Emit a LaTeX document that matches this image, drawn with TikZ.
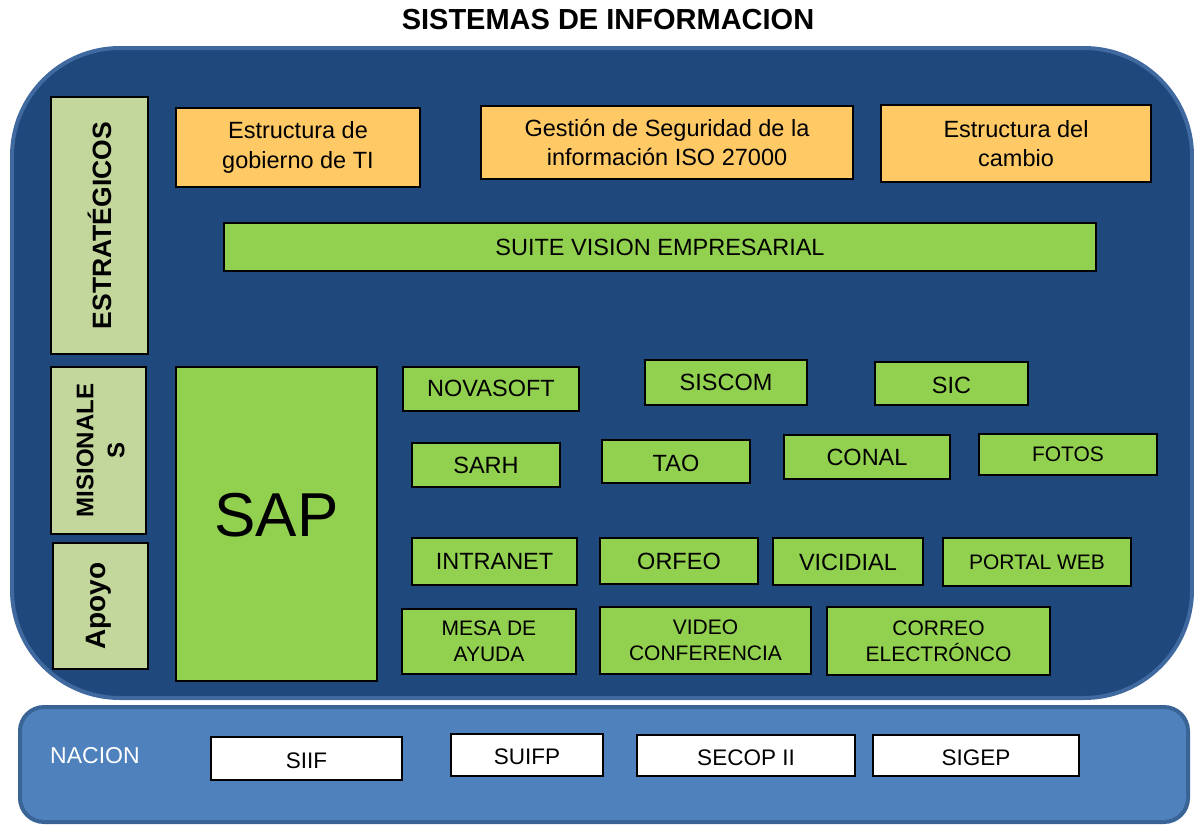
\documentclass[tikz,border=0pt]{standalone}
\usepackage{fontspec}
\setmainfont{Liberation Sans}
\definecolor{darkblue}{HTML}{1F497D}
\definecolor{rimblue}{HTML}{4069A0}
\definecolor{midblue}{HTML}{4F81BD}
\definecolor{rim2}{HTML}{3A6396}
\definecolor{lgreen}{HTML}{C3D69B}
\definecolor{sgreen}{HTML}{92D050}
\definecolor{sorange}{HTML}{FFC966}
\newcommand{\bx}[7]{%
  \node[#6, minimum width={(#4-#2)*1pt}, minimum height={(#5-#3)*1pt}] (#1) at ({(#2+#4)/2},{(#3+#5)/2}) {#7};}
\newcommand{\dn}[2]{\raisebox{-#1pt}[0.72em][0.21em]{#2}}
\tikzset{
  boxbase/.style={draw=black, line width=1.4pt, inner sep=0pt, align=center, font=\fontsize{23.5}{29.5}\selectfont},
  gbox/.style={boxbase, fill=sgreen},
  gsmall/.style={boxbase, fill=sgreen, font=\fontsize{21}{26}\selectfont},
  obox/.style={boxbase, fill=sorange},
  lbox/.style={boxbase, fill=lgreen},
  wbox/.style={boxbase, fill=white, font=\fontsize{22.5}{27}\selectfont},
}
\begin{document}
\begin{tikzpicture}[x=1pt,y=-1pt]
\useasboundingbox (0,0) rectangle (1194,825);
\node[font=\fontsize{29}{34}\bfseries] (title) at (608,20) {SISTEMAS DE INFORMACION};
\draw[fill=darkblue, draw=rimblue, line width=4pt, rounded corners=108pt] (12,48) rectangle (1192,698);
\draw[fill=midblue, draw=rim2, line width=4pt, rounded corners=24pt] (20,707) rectangle (1188,822);
% left labels
\bx{estr}{51}{97}{148}{354}{lbox}{}
\bx{mis}{51}{367}{146}{534}{lbox}{}
\bx{apo}{53}{543}{148}{669}{lbox}{}
\node[rotate=90, font=\fontsize{26.5}{31}\bfseries] (estrt) at (estr) {ESTRATÉGICOS};
\node[rotate=90, align=center, font=\fontsize{24}{31}\bfseries] (mist) at ([xshift=2pt]mis.center) {MISIONALE\\S};
\node[rotate=90, font=\fontsize{28}{33}\bfseries] (apot) at ([xshift=-2pt]apo.center) {Apoyo};
% orange
\bx{o1}{176}{108}{420}{187}{obox}{Estructura de\\gobierno de TI}
\bx{o2}{481}{106}{853}{179}{obox}{Gestión de Seguridad de la\\información ISO 27000}
\bx{o3}{881}{105}{1151}{182}{obox}{Estructura del\\cambio}
% green
\bx{suite}{224}{223}{1096}{271}{gbox}{SUITE VISION EMPRESARIAL}
\bx{sap}{176}{367}{377}{681}{gbox}{}
\node[font=\fontsize{62}{70}\selectfont] (sapt) at ([yshift=9pt]sap.center) {SAP};
\bx{nova}{403}{367}{579}{411}{gbox}{\dn{2}{NOVASOFT}}
\bx{siscom}{645}{360}{807}{405}{gbox}{\dn{2}{SISCOM}}
\bx{sic}{875}{362}{1028}{405}{gbox}{\dn{4}{SIC}}
\bx{sarh}{412}{443}{560}{487}{gbox}{\dn{2}{SARH}}
\bx{tao}{602}{440}{750}{483}{gbox}{\dn{4}{TAO}}
\bx{conal}{784}{435}{950}{479}{gbox}{\dn{2}{CONAL}}
\bx{fotos}{979}{434}{1157}{475}{gsmall}{\dn{2}{FOTOS}}
\bx{intra}{412}{538}{577}{585}{gbox}{\dn{2}{INTRANET}}
\bx{orfeo}{600}{538}{758}{584}{gbox}{ORFEO}
\bx{vici}{773}{538}{923}{585}{gbox}{\dn{3}{VICIDIAL}}
\bx{portal}{943}{538}{1131}{586}{gsmall}{PORTAL WEB}
\bx{mesa}{402}{609}{576}{674}{gsmall}{MESA DE\\AYUDA}
\bx{video}{600}{607}{811}{674}{gsmall}{VIDEO\\CONFERENCIA}
\bx{correo}{827}{607}{1050}{675}{gsmall}{CORREO\\ELECTRÓNCO}
% nacion
\node[anchor=west, text=white, font=\fontsize{23}{27}\selectfont, inner sep=0pt] (nacion) at (50,756) {NACION};
\bx{siif}{211}{737}{402}{780}{wbox}{\dn{4}{SIIF}}
\bx{suifp}{451}{734}{603}{776}{wbox}{\dn{4}{SUIFP}}
\bx{secop}{637}{735}{855}{776}{wbox}{\dn{4}{SECOP II}}
\bx{sigep}{873}{735}{1079}{776}{wbox}{\dn{4}{SIGEP}}
\end{tikzpicture}
\end{document}
